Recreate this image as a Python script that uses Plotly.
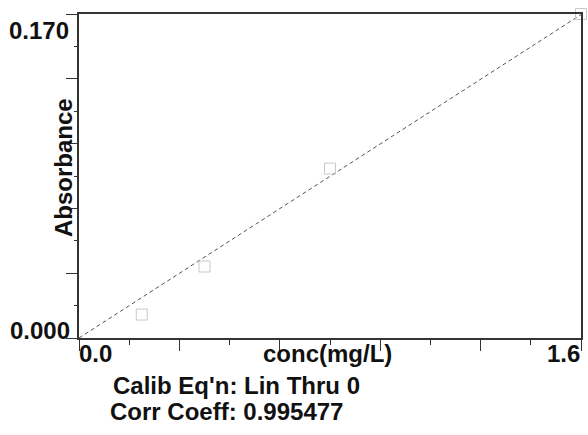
import plotly.graph_objects as go

# Calibration standards
conc = [0.2, 0.4, 0.8, 1.6]            # mg/L
absorbance = [0.0123, 0.0375, 0.0889, 0.170]

x_range = [0.0, 1.6]
y_range = [0.0, 0.170]
x_tick_labels = ["0.0", "1.6"]
y_tick_labels = ["0.000", "0.170"]
x_title = "conc(mg/L)"
y_title = "Absorbance"
calib_text = "Calib Eq'n: Lin Thru 0"
corr_text = "Corr Coeff: 0.995477"

# Linear fit forced through the origin
slope = sum(c * a for c, a in zip(conc, absorbance)) / sum(c * c for c in conc)
fit_x = [x_range[0], x_range[1]]
fit_y = [slope * v for v in fit_x]

W, H = 588, 435
L, R, T, B = 79, 5, 14, 97
pw, ph = W - L - R, H - T - B

FONT = "Liberation Sans, Arial, sans-serif"


def px(x):
    return (x - L) / pw


def py(y):
    return (H - B - y) / ph


fig = go.Figure()
fig.add_trace(go.Scatter(
    x=fit_x, y=fit_y, mode="lines",
    line=dict(color="#555555", width=1, dash="4px,3px"),
    hoverinfo="skip", showlegend=False,
))
fig.add_trace(go.Scatter(
    x=conc, y=absorbance, mode="markers",
    marker=dict(symbol="square-open", size=11, color="#c8c8c8",
                line=dict(width=1, color="#c8c8c8")),
    cliponaxis=False, showlegend=False,
))

major_x = [i * 0.32 for i in range(6)]
minor_x = [0.16 + i * 0.32 for i in range(5)]
major_y = [i * 0.034 for i in range(6)]
minor_y = [0.017 + i * 0.034 for i in range(5)]

axis_common = dict(
    showgrid=False, zeroline=False, showline=True, mirror=True,
    linecolor="#333333", linewidth=1.5,
    ticks="outside", tickcolor="#333333", tickwidth=1, ticklen=11,
    showticklabels=False, tickmode="array",
)
fig.update_xaxes(range=x_range, tickvals=major_x,
                 minor=dict(tickvals=minor_x, ticklen=5, tickcolor="#333333",
                            ticks="outside"),
                 **axis_common)
fig.update_yaxes(range=y_range, tickvals=major_y,
                 minor=dict(tickvals=minor_y, ticklen=3, tickcolor="#333333",
                            ticks="outside"),
                 **axis_common)

fs = 24
txt = dict(family=FONT, size=fs, color="#111111", weight="bold")
ann = [
    dict(text=y_tick_labels[1], x=px(71), y=py(30), xanchor="right", yanchor="middle"),
    dict(text=y_tick_labels[0], x=px(72), y=py(330), xanchor="right", yanchor="middle"),
    dict(text=x_tick_labels[0], x=px(77), y=py(353), xanchor="left", yanchor="middle"),
    dict(text=x_tick_labels[1], x=px(584), y=py(353), xanchor="right", yanchor="middle"),
    dict(text=x_title, x=px(328), y=py(353), xanchor="center", yanchor="middle"),
    dict(text=y_title, x=px(63), y=py(168), xanchor="center", yanchor="middle",
         textangle=-90),
    dict(text=calib_text, x=px(111), y=py(385), xanchor="left", yanchor="middle"),
    dict(text=corr_text, x=px(108), y=py(412), xanchor="left", yanchor="middle"),
]
for a in ann:
    a.update(xref="paper", yref="paper", showarrow=False, font=txt)

fig.update_layout(
    width=W, height=H,
    margin=dict(l=L, r=R, t=T, b=B),
    paper_bgcolor="white", plot_bgcolor="white",
    annotations=ann,
)

fig.write_html("out.html")
